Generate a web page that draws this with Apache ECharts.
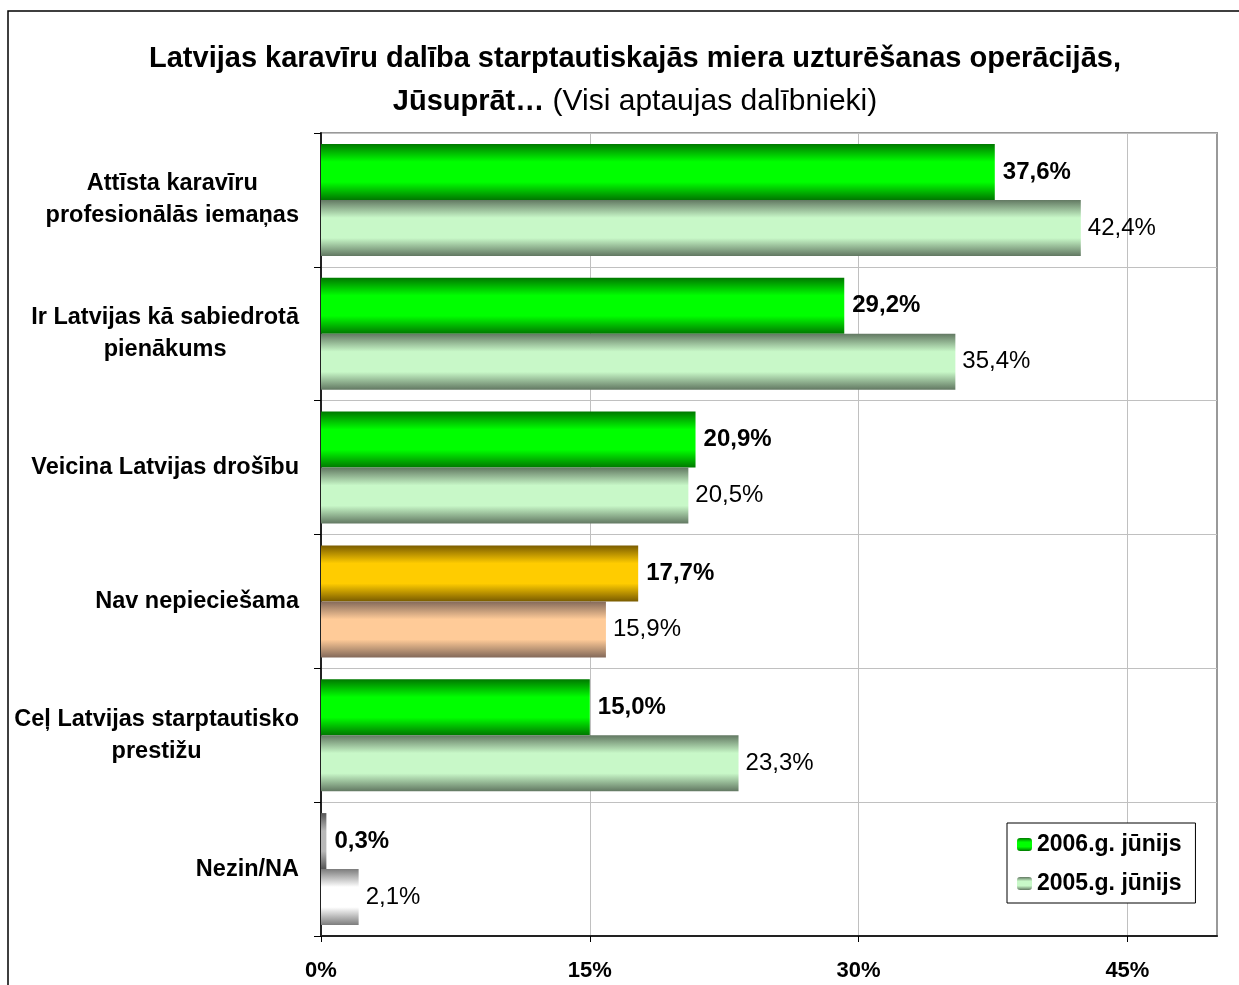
<!DOCTYPE html>
<html>
<head>
<meta charset="utf-8">
<script src="https://cdn.jsdelivr.net/npm/echarts@6/dist/echarts.min.js"></script>
<style>
  html, body { margin: 0; padding: 0; background: #fff; }
  #main { width: 1239px; height: 985px; }
</style>
</head>
<body>
<div id="main"></div>
<script>
// categories, top to bottom
var categories = [
    'Attīsta karavīru\nprofesionālās iemaņas',
    'Ir Latvijas kā sabiedrotā\npienākums',
    'Veicina Latvijas drošību',
    'Nav nepieciešama',
    'Ceļ Latvijas starptautisko\nprestižu',
    'Nezin/NA'
];
var seriesNames = ['2006.g. jūnijs', '2005.g. jūnijs'];
var values2006 = [37.6, 29.2, 20.9, 17.7, 15.0, 0.3];
var values2005 = [42.4, 35.4, 20.5, 15.9, 23.3, 2.1];
var xTicks = [0, 15, 30, 45];

var FONT = 'Arial, "Liberation Sans", sans-serif';

function grad(edge, mid) {
    return new echarts.graphic.LinearGradient(0, 0, 0, 1, [
        { offset: 0, color: edge },
        { offset: 0.32, color: mid },
        { offset: 0.68, color: mid },
        { offset: 1, color: edge }
    ]);
}

// per-bar colours for the odd categories
var special2006 = { 3: grad('#7a5c00', '#ffcc00'), 5: grad('#555555', '#b8b8b8') };
var special2005 = { 3: grad('#846a5a', '#ffcb98'), 5: grad('#7c7c7c', '#ffffff') };

function fmt(v) {
    return v.toFixed(1).replace('.', ',') + '%';
}

function buildData(values, special) {
    return values.map(function (v, i) {
        if (special[i]) {
            return { value: v, itemStyle: { color: special[i] } };
        }
        return v;
    });
}

var myChart = echarts.init(document.getElementById('main'));

var option = {
    backgroundColor: '#fff',
    textStyle: { fontFamily: FONT },
    title: {
        text: '{b|Latvijas karavīru dalība starptautiskajās miera uzturēšanas operācijās,}\n{b|Jūsuprāt…}{n| (Visi aptaujas dalībnieki)}',
        left: 630,
        top: 32,
        textAlign: 'center',
        textStyle: {
            fontFamily: FONT,
            rich: {
                b: { fontFamily: FONT, fontSize: 29, fontWeight: 'bold', color: '#000', lineHeight: 43 },
                n: { fontFamily: FONT, fontSize: 30, fontWeight: 'normal', color: '#000', lineHeight: 43 }
            }
        }
    },
    graphic: [{
        type: 'rect',
        shape: { x: 8, y: 11, width: 1300, height: 1100 },
        style: { fill: null, stroke: '#000', lineWidth: 1.5 },
        silent: true
    }],
    legend: {
        data: seriesNames,
        orient: 'vertical',
        left: 1007,
        top: 823,
        padding: [10, 14, 8, 10],
        itemGap: 16,
        itemWidth: 15,
        itemHeight: 13,
        borderColor: '#000',
        borderWidth: 1,
        backgroundColor: '#fff',
        textStyle: { fontFamily: FONT, fontSize: 23, fontWeight: 'bold', color: '#000' }
    },
    grid: {
        left: 321,
        top: 133,
        right: 22,
        bottom: 49,
        show: true,
        borderColor: '#999',
        borderWidth: 2
    },
    xAxis: {
        type: 'value',
        min: 0,
        max: 50,
        interval: 15,
        axisLine: { show: true, lineStyle: { color: '#222', width: 2 } },
        axisTick: { show: true, length: 6, lineStyle: { color: '#000' }, customValues: xTicks },
        splitLine: { show: true, lineStyle: { color: '#c0c0c0', width: 1 } },
        axisLabel: {
            customValues: xTicks,
            margin: 24,
            fontFamily: FONT,
            fontSize: 22,
            fontWeight: 'bold',
            color: '#000',
            formatter: function (v) { return v + '%'; }
        }
    },
    yAxis: {
        type: 'category',
        inverse: true,
        data: categories,
        axisLine: { show: true, lineStyle: { color: '#222', width: 2 } },
        axisTick: { show: true, length: 7, interval: 0, lineStyle: { color: '#000' } },
        splitLine: { show: true, interval: 0, lineStyle: { color: '#c0c0c0', width: 1 } },
        axisLabel: {
            interval: 0,
            margin: 22,
            formatter: function (v) {
                return v.split('\n').map(function (l) { return '{c|' + l + '}'; }).join('\n');
            },
            rich: {
                c: { fontFamily: FONT, fontSize: 23.5, fontWeight: 'bold', color: '#000', lineHeight: 32, align: 'center' }
            }
        }
    },
    series: [
        {
            name: seriesNames[0],
            type: 'bar',
            barWidth: 56,
            barGap: '0%',
            itemStyle: { color: grad('#007800', '#00ff00') },
            label: {
                show: true,
                position: 'right',
                distance: 8,
                fontFamily: FONT,
                fontSize: 24,
                fontWeight: 'bold',
                color: '#000',
                formatter: function (p) { return fmt(p.value); }
            },
            data: buildData(values2006, special2006)
        },
        {
            name: seriesNames[1],
            type: 'bar',
            barWidth: 56,
            barGap: '0%',
            itemStyle: { color: grad('#627862', '#c8f8c8') },
            label: {
                show: true,
                position: 'right',
                distance: 7,
                fontFamily: FONT,
                fontSize: 24,
                fontWeight: 'normal',
                color: '#000',
                formatter: function (p) { return fmt(p.value); }
            },
            data: buildData(values2005, special2005)
        }
    ]
};

myChart.setOption(option);
</script>
</body>
</html>
